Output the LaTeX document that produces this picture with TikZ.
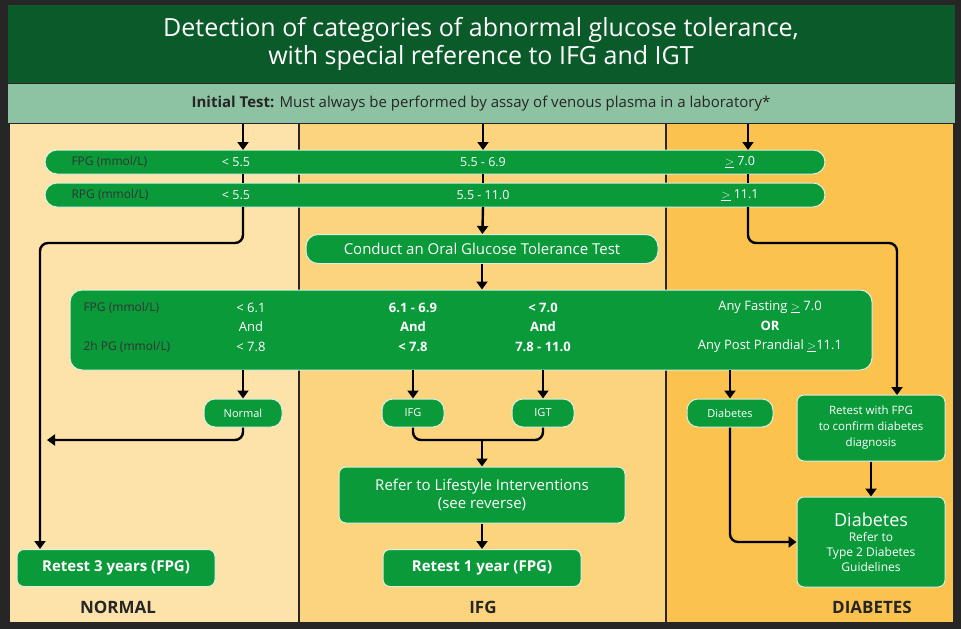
\documentclass[tikz,border=0pt]{standalone}
\usepackage{fontspec}
\setmainfont{Open Sans}
\usetikzlibrary{arrows.meta,calc}
\definecolor{dkgreen}{HTML}{0B5A2A}
\definecolor{boxgreen}{HTML}{0A9A3A}
\definecolor{teal}{HTML}{8DC3A2}
\definecolor{colA}{HTML}{FDE3AA}
\definecolor{colB}{HTML}{FDD47E}
\definecolor{colC}{HTML}{FBC24E}
\tikzset{
  gbox/.style={draw=white!85!boxgreen,line width=1pt,fill=boxgreen,rounded corners=7pt,text=white,align=center,inner sep=0pt},
  flow/.style={line width=2.4pt,black,rounded corners=8pt,-{Triangle[length=8pt,width=11pt]}},
  lab/.style={text=black!80,font=\fontsize{12}{14}\selectfont},
  val/.style={text=white,font=\fontsize{12.5}{14}\selectfont},
}
\begin{document}
\begin{tikzpicture}[x=1pt,y=-1pt]
\useasboundingbox (0,0) rectangle (961,629);
\fill[black!85] (0,0) rectangle (961,629);
% backgrounds
\fill[dkgreen] (8,5) rectangle (955,83);
\fill[teal] (8,84) rectangle (955,123);
\fill[colA] (10,124) rectangle (298,622);
\fill[colB] (300,124) rectangle (665,622);
\fill[colC] (667,124) rectangle (953,622);
\node[text=white,align=center,font=\fontsize{25}{28}\selectfont] (title) at (481,44)
  {Detection of categories of abnormal glucose tolerance,\\with special reference to IFG and IGT};
\node[text=black!85,font=\fontsize{15}{18}\selectfont] (init) at (481,104)
  {\textbf{Initial Test:} Must always be performed by assay of venous plasma in a laboratory*};
% bars
\node[gbox,minimum width=780pt,minimum height=24pt,rounded corners=12pt] (fpg) at (435,162) {};
\node[gbox,minimum width=780pt,minimum height=24pt,rounded corners=12pt] (rpg) at (435,195) {};
\node[lab,right] at (68,162) {FPG (mmol/L)};
\node[lab,right] at (68,195) {RPG (mmol/L)};
\foreach \x/\t/\u in {236/{< 5.5}/{< 5.5},483/{5.5 - 6.9}/{5.5 - 11.0},740/{$\underline{>}$ 7.0}/{$\underline{>}$ 11.1}}{
  \node[val] at (\x,162) {\t};
  \node[val] at (\x,195) {\u};
}
\node[gbox,minimum width=352pt,minimum height=29pt,rounded corners=12pt,font=\fontsize{15}{18}\selectfont] (ogtt) at (482,249) {Conduct an Oral Glucose Tolerance Test};
\node[gbox,minimum width=802pt,minimum height=80pt,rounded corners=12pt] (crit) at (471,330) {};
\node[lab,right] at (80,308) {FPG (mmol/L)};
\node[lab,right] at (80,347) {2h PG (mmol/L)};
\node[val,align=center,font=\fontsize{13}{19.5}\selectfont] at (251,327) {< 6.1\\And\\< 7.8};
\node[val,align=center,font=\fontsize{13}{19.5}\selectfont\bfseries] at (413,327) {6.1 - 6.9\\And\\< 7.8};
\node[val,align=center,font=\fontsize{13}{19.5}\selectfont\bfseries] at (543,327) {< 7.0\\And\\7.8 - 11.0};
\node[val,align=center,font=\fontsize{13}{19.5}\selectfont] at (770,327) {Any Fasting $\underline{>}$ 7.0\\\textbf{OR}\\Any Post Prandial $\underline{>}$11.1};
% outcome boxes
\node[gbox,minimum width=78pt,minimum height=28pt,rounded corners=11pt,font=\fontsize{11}{13}\selectfont] (normal) at (243,413) {Normal};
\node[gbox,minimum width=62pt,minimum height=28pt,rounded corners=11pt,font=\fontsize{11}{13}\selectfont] (ifg) at (413,413) {IFG};
\node[gbox,minimum width=62pt,minimum height=28pt,rounded corners=11pt,font=\fontsize{11}{13}\selectfont] (igt) at (543,413) {IGT};
\node[gbox,minimum width=86pt,minimum height=28pt,rounded corners=11pt,font=\fontsize{11}{13}\selectfont] (diab) at (730,413) {Diabetes};
\node[gbox,minimum width=148pt,minimum height=66pt,font=\fontsize{11.5}{16}\selectfont] (retest) at (871,428) {Retest with FPG\\to confirm diabetes\\diagnosis};
\node[gbox,minimum width=286pt,minimum height=56pt,font=\fontsize{15}{18}\selectfont] (life) at (482,495) {Refer to Lifestyle Interventions\\(see reverse)};
\node[gbox,minimum width=198pt,minimum height=37pt,font=\fontsize{15}{18}\selectfont\bfseries] (r1) at (482,568) {Retest 1 year (FPG)};
\node[gbox,minimum width=198pt,minimum height=37pt,font=\fontsize{15}{18}\selectfont\bfseries] (r3) at (116,568) {Retest 3 years (FPG)};
\node[gbox,minimum width=148pt,minimum height=90pt,align=center,font=\fontsize{12}{15}\selectfont] (final) at (871,542)
  {\fontsize{18}{21}\selectfont Diabetes\\\fontsize{12}{15}\selectfont Refer to\\Type 2 Diabetes\\Guidelines};
% column titles
\foreach \x/\t in {118/NORMAL,483/IFG / IGT,872/DIABETES}
  \node[font=\fontsize{17}{20}\selectfont\bfseries,text=black!85] at (\x,607) {\t};
% arrows
\foreach \x in {243,483,748}{
  \draw[flow] (\x,124) -- (\x,150);
  \draw[line width=2.4pt] (\x,174) -- (\x,183);
}
\coordinate (nl) at (40,243);
\coordinate (nj) at (40,440);
\draw[flow] (243,207) |- (nl) -- (r3.north -| nl);
\draw[flow] (normal) |- ($(nj)+(7,0)$);
\draw[flow] (483,207) -- (ogtt);
\draw[flow] (ogtt) -- (ogtt.south |- crit.north);
\foreach \n/\x in {normal/243,ifg/413,igt/543,diab/730}
  \draw[flow] (\x,370) -- (\n);
\draw[line width=2.4pt,rounded corners=8pt] (ifg) |- (482,440) -| (igt);
\draw[flow] (482,440) -- (life);
\draw[flow] (life) -- (r1);
\draw[flow] (748,207) |- (897,243) -- (897,395);
\draw[flow] (retest) -- (final);
\draw[flow] (diab) |- (final.west);
\end{tikzpicture}
\end{document}
